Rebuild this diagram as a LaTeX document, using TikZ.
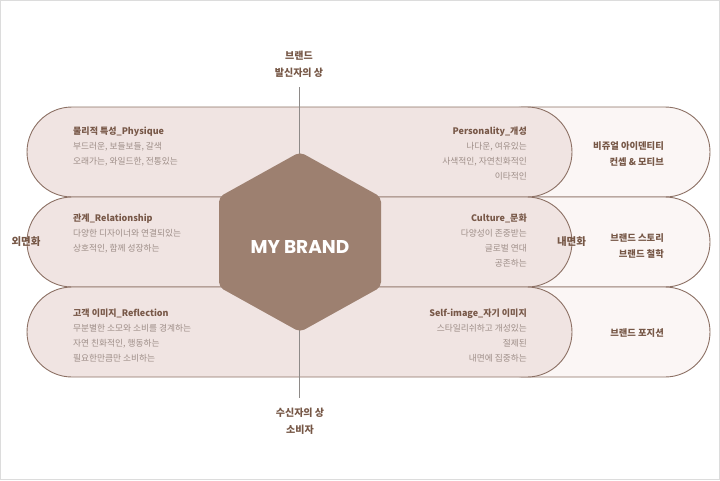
\documentclass[tikz,border=0pt]{standalone}
\usepackage{fontspec}
\setmainfont{Noto Sans CJK KR}
\newfontfamily\popfont{Poppins}
\definecolor{pillA}{HTML}{F0E4E2}
\definecolor{pillB}{HTML}{FBF6F5}
\definecolor{pillline}{HTML}{8C7064}
\definecolor{hexfill}{HTML}{9D8070}
\definecolor{titlec}{HTML}{785848}
\definecolor{bodyc}{HTML}{9E8E88}
\definecolor{labelc}{HTML}{765746}
\definecolor{axisc}{HTML}{8E8A88}
\definecolor{framec}{HTML}{DCDCDC}
\begin{document}
\begin{tikzpicture}[x=1pt,y=-1pt,
  pillL/.style={draw=pillline, line width=0.9pt, fill=pillA, rounded corners=45pt,
    minimum width=545pt, minimum height=90pt, inner sep=0pt},
  pillR/.style={draw=pillline, line width=0.9pt, fill=pillB, rounded corners=45pt,
    minimum width=230pt, minimum height=90pt, inner sep=0pt},
  axisline/.style={draw=axisc, line width=0.7pt},
  hexshape/.style={fill=hexfill, rounded corners=5pt},
  brandtxt/.style={text=white, font=\popfont\bfseries\fontsize{18.5}{20}\selectfont, inner sep=0pt},
  blockL/.style={anchor=north west, align=left, inner sep=0pt, text=bodyc,
    font=\fontsize{8.7}{14.8}\selectfont},
  blockR/.style={anchor=north east, align=right, inner sep=0pt, text=bodyc,
    font=\fontsize{8.7}{14.8}\selectfont},
  tagR/.style={anchor=north east, align=right, inner sep=0pt, text=labelc,
    font=\bfseries\fontsize{9.3}{16}\selectfont},
  sidelab/.style={inner sep=0pt, text=labelc, font=\bfseries\fontsize{10.5}{12}\selectfont},
  axislab/.style={inner sep=0pt, align=center, text=labelc, font=\bfseries\fontsize{10}{17}\selectfont}
]
\useasboundingbox (0,0) rectangle (720,480);
\draw[framec, line width=1pt] (0.5,0.5) rectangle (719,479);

% right pills (behind)
\node[pillR] (r1) at (595,152) {};
\node[pillR] (r2) at (595,242) {};
\node[pillR] (r3) at (595,332) {};
% left pills
\node[pillL] (l1) at (299.5,152) {};
\node[pillL] (l2) at (299.5,242) {};
\node[pillL] (l3) at (299.5,332) {};

% vertical axis
\coordinate (axtop) at (299.5,87);
\coordinate (axbot) at (299.5,398);
\draw[axisline] (axtop) -- (axbot);

% hexagon
\path[hexshape] (300,152) -- (381,197) -- (381,287) -- (300,332) -- (219,287) -- (219,197) -- cycle;
\node[brandtxt] (brand) at (300,247.5) {MY BRAND};

% row 1
\node[blockL] (t1l) at (73,127) {{\color{titlec}\bfseries\fontsize{9}{14.8}\selectfont 물리적 특성\_Physique}\\부드러운, 보들보들, 갈색\\오래가는, 와일드한, 전통있는};
\node[blockR] (t1r) at (527,127) {{\color{titlec}\bfseries\fontsize{9}{14.8}\selectfont Personality\_개성}\\나다운, 여유있는\\사색적인, 자연친화적인\\이타적인};
\node[tagR] (g1) at (664,141.8) {비쥬얼 아이덴티티\\컨셉 \& 모티브};

% row 2
\node[blockL] (t2l) at (73,214) {{\color{titlec}\bfseries\fontsize{9}{14.8}\selectfont 관계\_Relationship}\\다양한 디자이너와 연결되있는\\상호적인, 함께 성장하는};
\node[blockR] (t2r) at (527,214) {{\color{titlec}\bfseries\fontsize{9}{14.8}\selectfont Culture\_문화}\\다양성이 존중받는\\글로벌 연대\\공존하는};
\node[tagR] (g2) at (664,233.8) {브랜드 스토리\\브랜드 철학};

% row 3
\node[blockL] (t3l) at (73,309) {{\color{titlec}\bfseries\fontsize{9}{14.8}\selectfont 고객 이미지\_Reflection}\\무분별한 소모와 소비를 경계하는\\자연 친화적인, 행동하는\\필요한만큼만 소비하는};
\node[blockR] (t3r) at (527,309) {{\color{titlec}\bfseries\fontsize{9}{14.8}\selectfont Self-image\_자기 이미지}\\스타일리쉬하고 개성있는\\절제된\\내면에 집중하는};
\node[tagR] (g3) at (664,328.8) {브랜드 포지션};

% side labels
\node[sidelab] (outer) at (26,242) {외면화};
\node[sidelab] (inner) at (571.5,242) {내면화};

% axis labels
\node[axislab] (sender) at (299,64.5) {브랜드\\발신자의 상};
\node[axislab] (receiver) at (300,421.5) {수신자의 상\\소비자};
\end{tikzpicture}
\end{document}
